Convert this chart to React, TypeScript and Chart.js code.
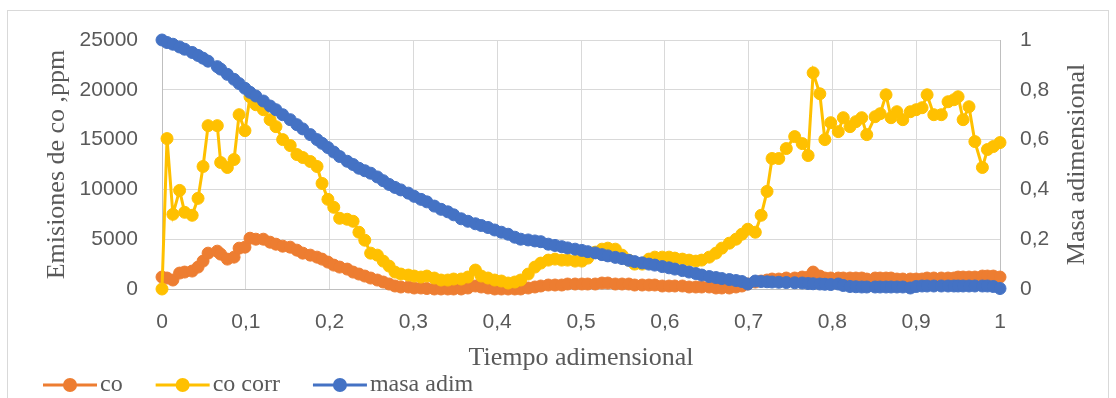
import React, { useEffect, useRef } from 'react';
import { Chart, registerables } from 'chart.js';

Chart.register(...registerables);

// ---------- DATA ----------
const tiempo = [
  0, 0.006, 0.013, 0.021, 0.027, 0.036, 0.043, 0.049, 0.055, 0.066,
  0.07, 0.078, 0.086, 0.092, 0.099, 0.105, 0.112, 0.121, 0.129, 0.136,
  0.144, 0.153, 0.161, 0.168, 0.177, 0.185, 0.191, 0.198, 0.205, 0.212,
  0.221, 0.228, 0.235, 0.242, 0.249, 0.257, 0.264, 0.271, 0.278, 0.285,
  0.294, 0.301, 0.309, 0.316, 0.325, 0.333, 0.341, 0.348, 0.357, 0.365,
  0.374, 0.381, 0.389, 0.397, 0.405, 0.413, 0.421, 0.428, 0.437, 0.445,
  0.452, 0.461, 0.469, 0.477, 0.484, 0.493, 0.501, 0.508, 0.517, 0.525,
  0.532, 0.541, 0.549, 0.557, 0.564, 0.573, 0.581, 0.588, 0.597, 0.605,
  0.612, 0.621, 0.629, 0.637, 0.644, 0.653, 0.661, 0.668, 0.677, 0.685,
  0.692, 0.699, 0.708, 0.715, 0.722, 0.728, 0.736, 0.745, 0.755, 0.764,
  0.771, 0.777, 0.785, 0.791, 0.798, 0.807, 0.813, 0.821, 0.828, 0.835,
  0.841, 0.851, 0.857, 0.864, 0.87, 0.877, 0.884, 0.893, 0.9, 0.907,
  0.913, 0.921, 0.93, 0.938, 0.945, 0.95, 0.956, 0.963, 0.97, 0.979,
  0.985, 0.992, 1.0,
];

const co = [
  1200, 1100, 900, 1600, 1700, 1800, 2200, 2800, 3600, 3800,
  3500, 3000, 3200, 4100, 4200, 5100, 5000, 5000, 4700, 4500,
  4300, 4200, 3900, 3600, 3400, 3200, 3000, 2700, 2400, 2200,
  2000, 1700, 1500, 1300, 1100, 900, 700, 500, 300, 200,
  200, 100, 100, 50, 0, 0, 0, 0, 0, 100,
  300, 200, 100, 0, 0, 0, 0, 0, 100, 200,
  300, 400, 400, 400, 500, 500, 500, 500, 500, 600,
  600, 500, 500, 500, 400, 400, 400, 400, 300, 300,
  300, 300, 200, 200, 200, 200, 100, 100, 100, 200,
  300, 500, 700, 800, 900, 1000, 1000, 1100, 1100, 1200,
  1200, 1700, 1300, 1100, 1100, 1100, 1100, 1100, 1100, 1100,
  1000, 1100, 1100, 1100, 1100, 1000, 1000, 1000, 1000, 1000,
  1100, 1100, 1100, 1100, 1100, 1200, 1200, 1200, 1200, 1300,
  1300, 1300, 1200,
];

const coCorr = [
  0, 15100, 7500, 9900, 7700, 7400, 9100, 12300, 16400, 16400,
  12700, 12200, 13000, 17500, 15900, 19300, 18500, 18000, 17000, 16300,
  15000, 14400, 13500, 13200, 12800, 12300, 10600, 9000, 8200, 7100,
  7000, 6800, 5700, 4900, 3600, 3400, 2800, 2300, 1700, 1500,
  1400, 1300, 1200, 1300, 1100, 900, 900, 1000, 1000, 1200,
  1900, 1300, 1100, 900, 800, 600, 700, 900, 1500, 2200,
  2600, 2900, 3000, 2900, 2900, 2800, 2800, 3100, 3700, 4000,
  4100, 4000, 3400, 2900, 2500, 2500, 3000, 3200, 3200, 3200,
  3100, 3000, 2900, 2800, 2900, 3200, 3600, 4100, 4600, 5000,
  5500, 6000, 5700, 7400, 9800, 13100, 13100, 14100, 15300, 14600,
  13400, 21700, 19600, 15000, 16700, 15800, 17200, 16300, 16800, 17200,
  15500, 17300, 17600, 19500, 17200, 17800, 17000, 17800, 18000, 18200,
  19500, 17500, 17500, 18800, 19000, 19300, 17000, 18300, 14800, 12200,
  14000, 14300, 14700,
];

const masaAdim = [
  1.0, 0.99, 0.983, 0.972, 0.963, 0.95, 0.938, 0.927, 0.915, 0.893,
  0.883, 0.862, 0.842, 0.825, 0.806, 0.79, 0.775, 0.755, 0.735, 0.72,
  0.7, 0.68, 0.66, 0.643, 0.62, 0.6, 0.585, 0.568, 0.55, 0.532,
  0.513, 0.5, 0.485, 0.475, 0.465, 0.45, 0.435, 0.42, 0.408, 0.398,
  0.385, 0.372, 0.36, 0.35, 0.333, 0.32, 0.31, 0.298, 0.282, 0.272,
  0.262, 0.255, 0.247, 0.237, 0.228, 0.22, 0.208, 0.2, 0.197, 0.193,
  0.19, 0.18, 0.175, 0.17, 0.165, 0.16, 0.155, 0.15, 0.145, 0.138,
  0.133, 0.127, 0.122, 0.115, 0.11, 0.105, 0.1, 0.096, 0.09, 0.085,
  0.08, 0.074, 0.068, 0.062, 0.056, 0.05, 0.046, 0.042, 0.038, 0.034,
  0.03, 0.02, 0.032, 0.03, 0.029, 0.028, 0.027, 0.026, 0.025, 0.024,
  0.022, 0.021, 0.02, 0.019, 0.018, 0.02, 0.014, 0.01, 0.009, 0.008,
  0.008, 0.008, 0.008, 0.008, 0.008, 0.008, 0.008, 0.004, 0.01, 0.012,
  0.012, 0.012, 0.012, 0.012, 0.012, 0.012, 0.012, 0.012, 0.012, 0.012,
  0.012, 0.01, 0.002,
];

const xTickLabels = ['0', '0,1', '0,2', '0,3', '0,4', '0,5', '0,6', '0,7', '0,8', '0,9', '1'];
const yLeftTickLabels = ['0', '5000', '10000', '15000', '20000', '25000'];
const yRightTickLabels = ['0', '0,2', '0,4', '0,6', '0,8', '1'];

const seriesNames = ['co', 'co corr', 'masa adim'];
const seriesColors = ['#ED7D31', '#FFC000', '#4472C4'];

const xTitle = 'Tiempo adimensional';
const yLeftTitle = 'Emisiones de co ,ppm';
const yRightTitle = 'Masa adimensional';

// ---------- STYLE ----------
const TEXT_COLOR = '#595959';
const SANS = '"Liberation Sans", Arial, sans-serif';
const SERIF = '"Liberation Serif", "Times New Roman", serif';
const TICK_FONT = { family: SANS, size: 21 };

const customDraw = {
  id: 'customDraw',
  afterDraw(chart: any) {
    const ctx = chart.ctx as CanvasRenderingContext2D;
    const area = chart.chartArea;

    // right axis title, reading bottom to top
    ctx.save();
    ctx.font = `26px ${SERIF}`;
    ctx.fillStyle = TEXT_COLOR;
    ctx.textAlign = 'center';
    ctx.textBaseline = 'middle';
    ctx.translate(area.right + 77, (area.top + area.bottom) / 2);
    ctx.rotate(-Math.PI / 2);
    ctx.fillText(yRightTitle, 0, 0);
    ctx.restore();

    // legend
    ctx.save();
    ctx.font = `24px ${SERIF}`;
    ctx.textAlign = 'left';
    ctx.textBaseline = 'middle';
    const y = 385;
    let x = 43;
    const lineLen = 54;
    chart.data.datasets.forEach((ds: any) => {
      const color = ds.borderColor;
      ctx.strokeStyle = color;
      ctx.lineWidth = 3;
      ctx.beginPath();
      ctx.moveTo(x, y);
      ctx.lineTo(x + lineLen, y);
      ctx.stroke();
      ctx.fillStyle = color;
      ctx.beginPath();
      ctx.arc(x + lineLen / 2, y, 7, 0, Math.PI * 2);
      ctx.fill();
      ctx.fillStyle = TEXT_COLOR;
      ctx.fillText(ds.label, x + lineLen + 3, y);
      x += lineLen + 3 + ctx.measureText(ds.label).width + 33;
    });
    ctx.restore();
  },
};

export default function App() {
  const canvasRef = useRef<HTMLCanvasElement | null>(null);

  useEffect(() => {
    const canvas = canvasRef.current;
    if (!canvas) return;

    const seriesValues = [co, coCorr, masaAdim];
    const datasets = seriesValues.map((vals, i) => ({
      label: seriesNames[i],
      data: tiempo.map((t, k) => ({ x: t, y: vals[k] })),
      borderColor: seriesColors[i],
      backgroundColor: seriesColors[i],
      pointBackgroundColor: seriesColors[i],
      pointBorderColor: seriesColors[i],
      borderWidth: 3,
      pointRadius: 6,
      pointHoverRadius: 6,
      pointBorderWidth: 1,
      tension: 0,
      clip: false as any,
      yAxisID: i === 2 ? 'y1' : 'y',
      order: 3 - i,
    }));

    const chart = new Chart(canvas, {
      type: 'line',
      data: { datasets },
      options: {
        responsive: false,
        animation: false,
        events: [],
        layout: { padding: { left: 44, right: 44, top: 40, bottom: 27 } },
        plugins: {
          legend: { display: false },
          tooltip: { enabled: false },
        },
        scales: {
          x: {
            type: 'linear',
            min: 0,
            max: 1,
            ticks: {
              stepSize: 0.1,
              padding: 21,
              color: TEXT_COLOR,
              font: TICK_FONT,
              maxRotation: 0,
              autoSkip: false,
              callback: (v: any) => xTickLabels[Math.round(Number(v) * 10)] ?? '',
            },
            grid: { color: '#d9d9d9', lineWidth: 1, drawTicks: false },
            border: { color: '#bfbfbf', width: 1 },
            title: {
              display: true,
              text: xTitle,
              color: TEXT_COLOR,
              font: { family: SERIF, size: 26, lineHeight: 1 },
              padding: 0,
            },
            afterFit: (s: any) => {
              s.height = 82;
            },
          },
          y: {
            type: 'linear',
            position: 'left',
            min: 0,
            max: 25000,
            ticks: {
              stepSize: 5000,
              padding: 24,
              color: TEXT_COLOR,
              font: TICK_FONT,
              callback: (v: any) => yLeftTickLabels[Math.round(Number(v) / 5000)] ?? '',
            },
            grid: { color: '#d9d9d9', lineWidth: 1, drawTicks: false },
            border: { color: '#bfbfbf', width: 1 },
            title: {
              display: true,
              text: yLeftTitle,
              color: TEXT_COLOR,
              font: { family: SERIF, size: 26, lineHeight: 1 },
              padding: 0,
            },
            afterFit: (s: any) => {
              s.width = 118;
            },
          },
          y1: {
            type: 'linear',
            position: 'right',
            min: 0,
            max: 1,
            ticks: {
              stepSize: 0.2,
              padding: 20,
              color: TEXT_COLOR,
              font: TICK_FONT,
              callback: (v: any) => yRightTickLabels[Math.round(Number(v) * 5)] ?? '',
            },
            grid: { drawOnChartArea: false, drawTicks: false },
            border: { color: '#bfbfbf', width: 1 },
            afterFit: (s: any) => {
              s.width = 72;
            },
          },
        },
      },
      plugins: [customDraw],
    });

    return () => {
      chart.destroy();
    };
  }, []);

  return (
    <div
      style={{
        position: 'absolute',
        left: 0,
        top: 0,
        width: 1116,
        height: 398,
        overflow: 'hidden',
        background: '#ffffff',
      }}
    >
      <div
        style={{
          position: 'absolute',
          left: 7,
          top: 10,
          width: 1102,
          height: 420,
          border: '1px solid #d9d9d9',
          boxSizing: 'border-box',
        }}
      />
      <canvas
        ref={canvasRef}
        width={1116}
        height={398}
        style={{ position: 'absolute', left: 0, top: 0, width: 1116, height: 398 }}
      />
    </div>
  );
}
